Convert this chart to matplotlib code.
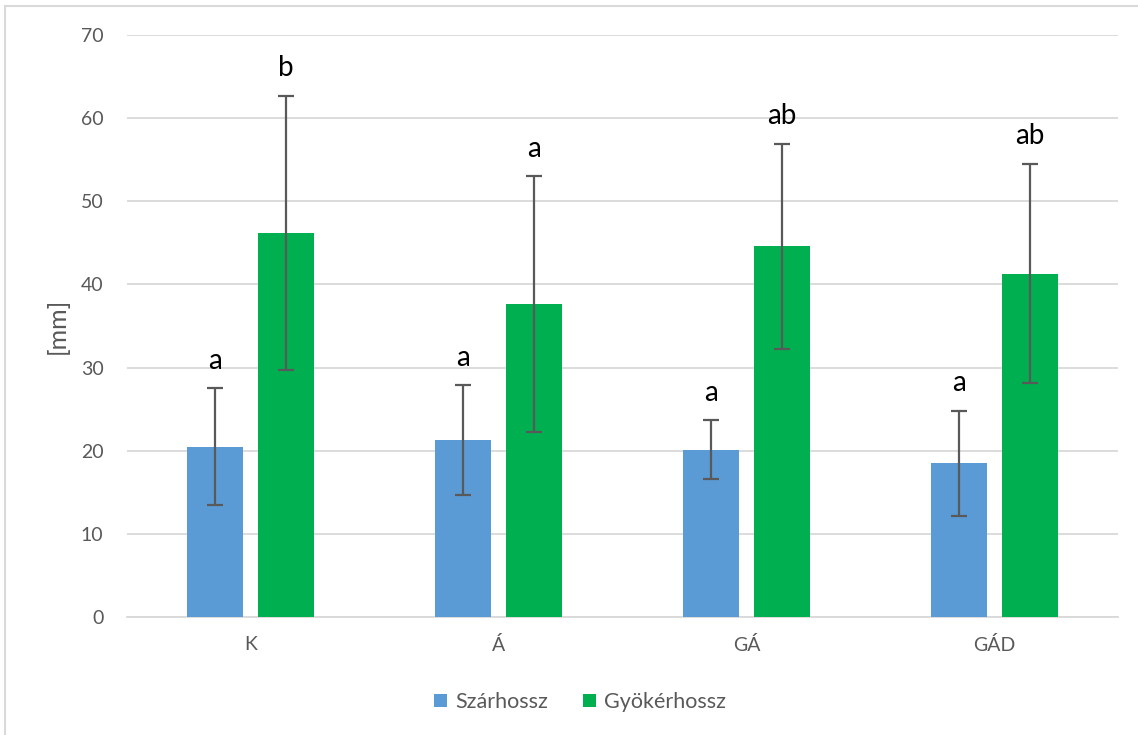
import matplotlib
matplotlib.use("Agg")
import matplotlib.pyplot as plt
from matplotlib.patches import Rectangle
import numpy as np

plt.rcParams['font.family'] = ['Lato', 'DejaVu Sans']

categories = ["K", "Á", "GÁ", "GÁD"]
szar = [20.5, 21.3, 20.1, 18.5]
szar_err = [7.0, 6.6, 3.55, 6.3]
gyoker = [46.2, 37.6, 44.6, 41.3]
gyoker_err = [16.5, 15.4, 12.35, 13.2]
szar_letters = ["a", "a", "a", "a"]
gyoker_letters = ["b", "a", "ab", "ab"]
series_names = ["Szárhossz", "Gyökérhossz"]

blue = "#5B9BD5"
green = "#00B050"
text_gray = "#595959"

fig = plt.figure(figsize=(11.38, 7.35), dpi=100)
W, H = 1138, 735
ax = fig.add_axes([127 / W, 1 - 617 / H, (1118 - 127) / W, (617 - 35) / H])

# outer chart frame
fig.patches.append(Rectangle((5 / W, -0.05), 1.1, 1 - 6 / H + 0.05, transform=fig.transFigure,
                             fill=False, edgecolor="#d9d9d9", linewidth=1.5))

x = np.arange(len(categories))
width = 0.226
off = 0.143

err_kw = dict(ecolor=text_gray, elinewidth=1.6, capsize=5.5, capthick=1.6)
b1 = ax.bar(x - off, szar, width, color=blue, yerr=szar_err, error_kw=err_kw,
            label=series_names[0], zorder=3)
b2 = ax.bar(x + off, gyoker, width, color=green, yerr=gyoker_err, error_kw=err_kw,
            label=series_names[1], zorder=3)

for xi, v, e, t in zip(x - off, szar, szar_err, szar_letters):
    ax.annotate(t, (xi, v + e), xytext=(0, 14), textcoords="offset points",
                ha="center", va="baseline", fontsize=20, color="black")
for xi, v, e, t in zip(x + off, gyoker, gyoker_err, gyoker_letters):
    ax.annotate(t, (xi, v + e), xytext=(0, 14), textcoords="offset points",
                ha="center", va="baseline", fontsize=20, color="black")

ax.set_xlim(-0.5, len(categories) - 0.5)
ax.set_ylim(0, 70)
ax.set_yticks(range(0, 71, 10))
ax.set_xticks(x)
ax.set_xticklabels(categories)
ax.tick_params(axis="both", length=0, labelsize=14, colors=text_gray)
ax.tick_params(axis="y", pad=17)
ax.tick_params(axis="x", pad=14)
ax.yaxis.grid(True, color="#d9d9d9", linewidth=1.3, zorder=0)
ax.set_axisbelow(True)
for s in ["top", "right", "left"]:
    ax.spines[s].set_visible(False)
ax.spines["bottom"].set_color("#d9d9d9")
ax.spines["bottom"].set_linewidth(1.3)

fig.text(57 / W, 1 - 326 / H, "[mm]", rotation=90, ha="center", va="center",
         fontsize=18, color=text_gray)

fig.legend(handles=[b1, b2], labels=series_names, loc="center",
           bbox_to_anchor=(580 / W, 1 - 702 / H), ncol=2, frameon=False,
           fontsize=15.5, labelcolor=text_gray, handlelength=0.6, handleheight=0.6,
           handletextpad=0.4, columnspacing=1.6)

fig.savefig("out.png", dpi=100)
